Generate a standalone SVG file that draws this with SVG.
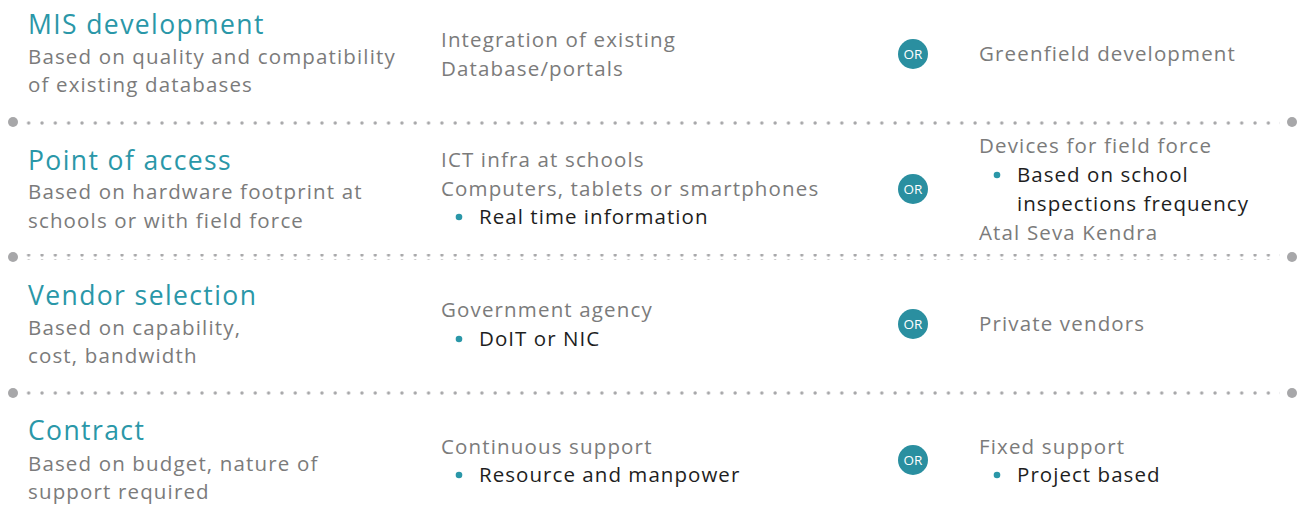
<svg xmlns="http://www.w3.org/2000/svg" width="1298" height="507" viewBox="0 0 1298 507">
<style>
text{font-family:"Open Sans","Noto Sans",sans-serif}
.t{font-size:26.5px;fill:#2a97a8;letter-spacing:1.4px}
.g{font-size:20.5px;fill:#7b7b7b;letter-spacing:1.15px}
.b{font-size:20.5px;fill:#1e1e1e;letter-spacing:1.05px}
.or{fill:#2a8fa0}
.ort{font-size:13.5px;fill:#fff;text-anchor:middle}
.bul{fill:#2a97a8}
.dot{fill:#a7a7a9}
</style>
<defs>
<pattern id="dp" x="0" y="0" width="13.33" height="6" patternUnits="userSpaceOnUse">
<circle cx="2" cy="3" r="1.7" class="dot"/>
</pattern>
</defs>
<rect width="1298" height="507" fill="#fff"/>
<g id="separators">
<circle cx="13" cy="122" r="5" class="dot"/><rect x="25" y="119" width="1255" height="6" fill="url(#dp)"/><circle cx="1292" cy="122" r="5" class="dot"/>
<circle cx="13" cy="257" r="5" class="dot"/><rect x="25" y="254" width="1255" height="6" fill="url(#dp)"/><circle cx="1292" cy="257" r="5" class="dot"/>
<circle cx="13" cy="393" r="5" class="dot"/><rect x="25" y="390" width="1255" height="6" fill="url(#dp)"/><circle cx="1292" cy="393" r="5" class="dot"/>
</g>
<g id="row1">
<text x="28" y="34" class="t">MIS development</text>
<text x="28" y="64" class="g">Based on quality and compatibility</text>
<text x="28" y="92" class="g">of existing databases</text>
<text x="441" y="47" class="g">Integration of existing</text>
<text x="441" y="76" class="g">Database/portals</text>
<circle cx="913" cy="54" r="15" class="or"/><text x="913" y="59" class="ort">OR</text>
<text x="979" y="61" class="g">Greenfield development</text>
</g>
<g id="row2">
<text x="28" y="170" class="t">Point of access</text>
<text x="28" y="199" class="g">Based on hardware footprint at</text>
<text x="28" y="228" class="g">schools or with field force</text>
<text x="441" y="167" class="g">ICT infra at schools</text>
<text x="441" y="196" class="g">Computers, tablets or smartphones</text>
<circle cx="459" cy="217" r="3.3" class="bul"/><text x="479" y="224" class="b">Real time information</text>
<circle cx="913" cy="189" r="15" class="or"/><text x="913" y="194" class="ort">OR</text>
<text x="979" y="153" class="g">Devices for field force</text>
<circle cx="997" cy="175" r="3.3" class="bul"/><text x="1017" y="182" class="b">Based on school</text>
<text x="1017" y="211" class="b">inspections frequency</text>
<text x="979" y="240" class="g">Atal Seva Kendra</text>
</g>
<g id="row3">
<text x="28" y="305" class="t">Vendor selection</text>
<text x="28" y="335" class="g">Based on capability,</text>
<text x="28" y="363" class="g">cost, bandwidth</text>
<text x="441" y="317" class="g">Government agency</text>
<circle cx="459" cy="339" r="3.3" class="bul"/><text x="479" y="346" class="b">DoIT or NIC</text>
<circle cx="913" cy="324" r="15" class="or"/><text x="913" y="329" class="ort">OR</text>
<text x="979" y="331" class="g">Private vendors</text>
</g>
<g id="row4">
<text x="28" y="440" class="t">Contract</text>
<text x="28" y="471" class="g">Based on budget, nature of</text>
<text x="28" y="499" class="g">support required</text>
<text x="441" y="454" class="g">Continuous support</text>
<circle cx="459" cy="475" r="3.3" class="bul"/><text x="479" y="482" class="b">Resource and manpower</text>
<circle cx="913" cy="460" r="15" class="or"/><text x="913" y="465" class="ort">OR</text>
<text x="979" y="454" class="g">Fixed support</text>
<circle cx="997" cy="475" r="3.3" class="bul"/><text x="1017" y="482" class="b">Project based</text>
</g>
</svg>
